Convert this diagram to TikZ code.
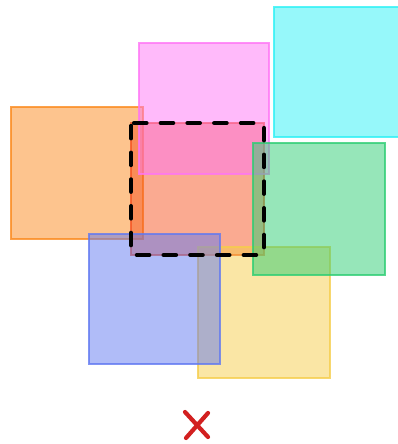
\documentclass[tikz,border=0pt]{standalone}
\begin{document}
\definecolor{oranje}{RGB}{251,137,29}
\definecolor{roze}{RGB}{255,117,245}
\definecolor{cyaan}{RGB}{45,241,245}
\definecolor{groen}{RGB}{45,205,115}
\definecolor{blauw}{RGB}{97,121,241}
\definecolor{geel}{RGB}{245,205,75}
\definecolor{rood}{RGB}{245,85,35}
\definecolor{kruis}{RGB}{210,32,32}
\begin{tikzpicture}[x=0.025cm,y=-0.025cm,
  vak/.style={draw=#1,fill=#1,fill opacity=0.5,draw opacity=0.8,line width=1.4pt}]
\useasboundingbox (0,0) rectangle (398,444);
% Vierkanten
\coordinate (O1) at (11,107);  \coordinate (O2) at (143,239);
\coordinate (R1) at (131,123); \coordinate (R2) at (264,255);
\coordinate (M1) at (139,43);  \coordinate (M2) at (269,174);
\coordinate (C1) at (274,7);   \coordinate (C2) at (406,137);
\coordinate (G1) at (253,143); \coordinate (G2) at (385,275);
\coordinate (B1) at (89,234);  \coordinate (B2) at (220,364);
\coordinate (Y1) at (198,247); \coordinate (Y2) at (330,378);

\draw[vak=oranje] (O1) rectangle (O2);
\draw[vak=rood] (R1) rectangle (R2);
\draw[vak=roze] (M1) rectangle (M2);
\draw[vak=cyaan] (C1) rectangle (C2);
\draw[vak=geel] (Y1) rectangle (Y2);
\draw[vak=groen] (G1) rectangle (G2);
\draw[vak=blauw] (B1) rectangle (B2);

% Selectie
\draw[line width=2.8pt,line cap=round,dash pattern=on 9pt off 10pt,rounded corners=2pt] (R1) rectangle (R2);

% Kruis
\draw[kruis,line width=3pt,line cap=round] (185,412) -- (208,437);
\draw[kruis,line width=3pt,line cap=round] (208,413) -- (186,438);
\end{tikzpicture}
\end{document}
